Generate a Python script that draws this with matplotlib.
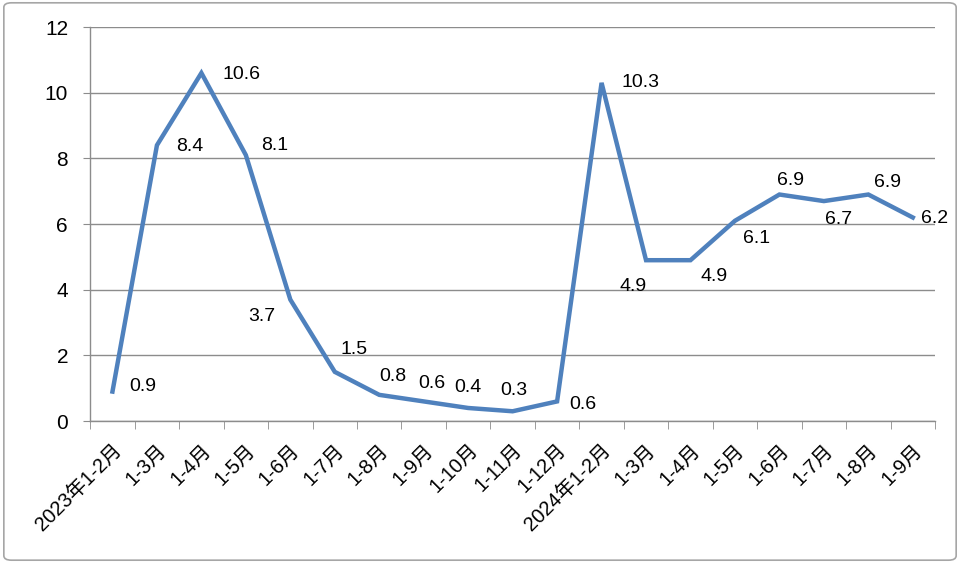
import matplotlib
matplotlib.use("Agg")
import matplotlib.pyplot as plt
from matplotlib.patches import FancyBboxPatch
import numpy as np

plt.rcParams['font.family'] = ['Liberation Sans', 'Noto Sans CJK SC']

months = ['2023年1-2月', '1-3月', '1-4月', '1-5月', '1-6月', '1-7月', '1-8月', '1-9月',
          '1-10月', '1-11月', '1-12月', '2024年1-2月', '1-3月', '1-4月', '1-5月',
          '1-6月', '1-7月', '1-8月', '1-9月']
values = [0.9, 8.4, 10.6, 8.1, 3.7, 1.5, 0.8, 0.6, 0.4, 0.3, 0.6,
          10.3, 4.9, 4.9, 6.1, 6.9, 6.7, 6.9, 6.2]

# label offsets in points (dx, dy) from each data point, label left-aligned
label_offsets = [(12, 4), (14, -1), (15, -1), (11, 7), (-30, -12), (4, 16), (0, 13),
                 (-4, 13), (-10, 15), (-9, 15), (9, -2), (14, 0), (-19, -19),
                 (7, -12), (6, -13), (-2, 10), (1, -13), (4, 9), (6, -1)]

line_color = '#4F81BD'
grid_color = '#8C8C8C'

fig = plt.figure(figsize=(9.6, 5.63), dpi=100)
ax = fig.add_axes([0.094, 0.252, 0.880, 0.700])

x = np.arange(len(values))
ax.plot(x, values, color=line_color, linewidth=3.2, solid_joinstyle='miter')

for xi, v, (dx, dy) in zip(x, values, label_offsets):
    ax.annotate(f'{v:.1f}', (xi, v), xytext=(dx, dy), textcoords='offset points',
                ha='left', va='center', fontsize=14, color='black')

ax.set_xlim(-0.5, len(values) - 0.5)
ax.set_ylim(0, 12)
ax.set_yticks(np.arange(0, 13, 2))
ax.tick_params(axis='y', labelsize=15, length=5, color=grid_color, pad=11)

ax.set_xticks(x)
ax.set_xticklabels(months, rotation=45, ha='right', rotation_mode='anchor', fontsize=14.5)
ax.set_xticks(np.arange(-0.5, len(values), 1), minor=True)
ax.tick_params(axis='x', which='major', length=0, pad=14)
ax.tick_params(axis='x', which='minor', length=6, color=grid_color)

ax.grid(axis='y', color=grid_color, linewidth=1)
ax.set_axisbelow(True)
for s in ['top', 'right']:
    ax.spines[s].set_visible(False)
for s in ['left', 'bottom']:
    ax.spines[s].set_color(grid_color)
    ax.spines[s].set_linewidth(1)

border = FancyBboxPatch((0.004, 0.005), 0.992, 0.990, boxstyle='round,pad=0,rounding_size=0.008',
                        transform=fig.transFigure, facecolor='none', edgecolor='#A6A6A6',
                        linewidth=1.2)
fig.patches.append(border)

fig.savefig('out.png', dpi=100)
